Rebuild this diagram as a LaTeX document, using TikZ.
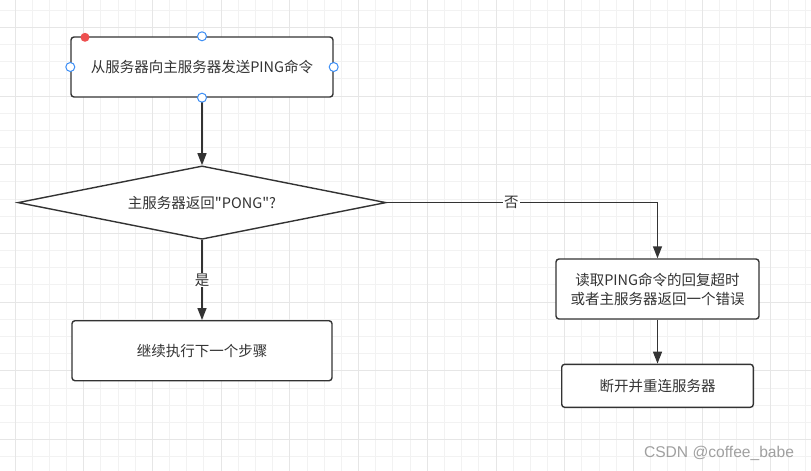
\documentclass[tikz,border=0pt]{standalone}
\usepackage{fontspec}
\newfontfamily\cjk{Noto Sans CJK SC}
\newfontfamily\wmfont{Liberation Sans}
\usetikzlibrary{shapes.geometric,arrows.meta}
\definecolor{lc}{HTML}{333333}
\definecolor{gridminor}{HTML}{F2F2F2}
\definecolor{gridmajor}{HTML}{E6E6E6}
\definecolor{hblue}{HTML}{3D8EF5}
\definecolor{hred}{HTML}{EE5050}
\definecolor{wmgray}{HTML}{A0A0A0}
\tikzset{
  box/.style={draw=lc, line width=1.4pt, rounded corners=3pt, fill=white, align=center,
    font=\cjk\fontsize{14.5pt}{19pt}\selectfont, text=lc, inner sep=0pt},
  decision/.style={diamond, draw=lc, line width=1.4pt, fill=white, aspect=5, inner sep=0pt,
    minimum width=368pt, minimum height=73.4pt, font=\cjk\fontsize{14.5pt}{19pt}\selectfont, text=lc},
  conn/.style={draw=lc, line width=1.4pt, -{Triangle[length=12pt,width=9pt]}},
  lbl/.style={fill=white, inner sep=1pt, text=lc, font=\cjk\fontsize{14.5pt}{19pt}\selectfont},
  handle/.style={circle, draw=hblue, fill=white, line width=1pt, minimum size=9pt, inner sep=0pt},
  reddot/.style={circle, fill=hred, minimum size=9pt, inner sep=0pt},
}
\begin{document}
\begin{tikzpicture}[x=1pt,y=-1pt]
\useasboundingbox (0,0) rectangle (811,471);
\fill[white] (0,0) rectangle (811,471);
% grid
\foreach \k in {0,...,46} {
  \draw[gridminor, line width=1pt] ({15+\k*17.18},0) -- ({15+\k*17.18},471);
}
\foreach \k in {0,...,27} {
  \draw[gridminor, line width=1pt] (0,{10.1+\k*17.18}) -- (811,{10.1+\k*17.18});
}
\foreach \k in {0,4,...,44} {
  \draw[gridmajor, line width=1pt] ({15+\k*17.18},0) -- ({15+\k*17.18},471);
}
\foreach \k in {1,5,...,25} {
  \draw[gridmajor, line width=1pt] (0,{10.1+\k*17.18}) -- (811,{10.1+\k*17.18});
}
% nodes
\node[box, minimum width=262pt, minimum height=60pt] (b1) at (202,67) {从服务器向主服务器发送PING命令};
\node[decision] (d) at (202,202.6) {主服务器返回"PONG"?};
\node[box, minimum width=260pt, minimum height=60pt] (b2) at (202,350.7) {继续执行下一个步骤};
\node[box, minimum width=203pt, minimum height=60pt] (b3) at (657.5,289) {读取PING命令的回复超时\\或者主服务器返回一个错误};
\node[box, minimum width=191.6pt, minimum height=43pt] (b4) at (657.5,385.8) {断开并重连服务器};
% connectors
\draw[conn] (b1.south) -- (d.north);
\draw[conn] (d.east) -| node[lbl, pos=0.23] {否} (b3.north);
\draw[conn] (d.south) -- node[lbl, pos=0.5] {是} (b2.north);
\draw[conn] (b3.south) -- (b4.north);
% selection handles
\node[handle] (h1) at (b1.north) {};
\node[handle] (h2) at (b1.south) {};
\node[handle] (h3) at (b1.west) {};
\node[handle] (h4) at (b1.east) {};
\node[reddot] (r1) at (85,37.3) {};
% watermark
\node[text=wmgray, font=\wmfont\fontsize{15.6pt}{18pt}\selectfont, inner sep=0pt] (wm) at (719,453) {CSDN @coffee\_babe};
\end{tikzpicture}
\end{document}
